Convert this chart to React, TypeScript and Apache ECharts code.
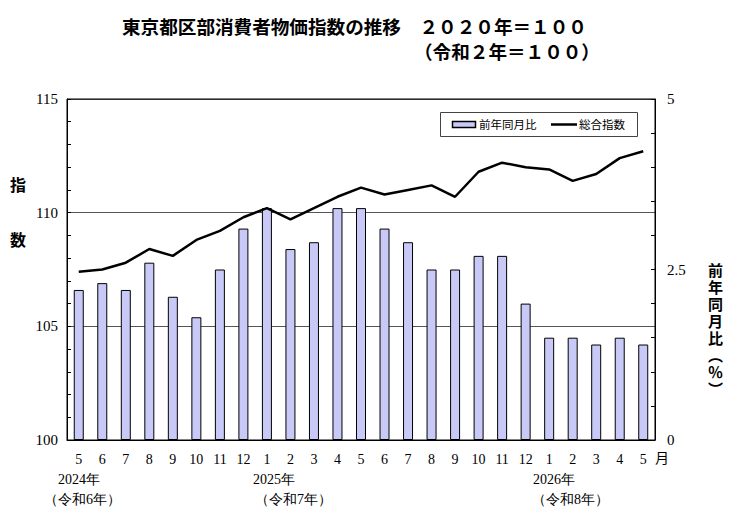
import React, { useEffect, useRef } from "react";
import * as echarts from "echarts";

const categories = [
  "2024-05", "2024-06", "2024-07", "2024-08", "2024-09", "2024-10", "2024-11", "2024-12",
  "2025-01", "2025-02", "2025-03", "2025-04", "2025-05", "2025-06", "2025-07", "2025-08",
  "2025-09", "2025-10", "2025-11", "2025-12", "2026-01", "2026-02", "2026-03", "2026-04", "2026-05",
];
const monthLabels = ["5", "6", "7", "8", "9", "10", "11", "12", "1", "2", "3", "4", "5", "6", "7", "8", "9", "10", "11", "12", "1", "2", "3", "4", "5"];
const yoyChange = [2.2, 2.3, 2.2, 2.6, 2.1, 1.8, 2.5, 3.1, 3.4, 2.8, 2.9, 3.4, 3.4, 3.1, 2.9, 2.5, 2.5, 2.7, 2.7, 2.0, 1.5, 1.5, 1.4, 1.5, 1.4];
const overallIndex = [107.4, 107.5, 107.8, 108.4, 108.1, 108.8, 109.2, 109.8, 110.2, 109.7, 110.2, 110.7, 111.1, 110.8, 111.0, 111.2, 110.7, 111.8, 112.2, 112.0, 111.9, 111.4, 111.7, 112.4, 112.7];
const leftTicks = [100, 105, 110, 115];
const rightTicks = [0, 2.5, 5];
const rightAxisTitle = ["前", "年", "同", "月", "比", "︵", "％", "︶"];

const SERIF = "'Liberation Serif', 'DejaVu Serif', serif";
const GOTHIC = "'Noto Sans CJK JP', 'Noto Sans', sans-serif";
const BAR_COLOR = "#c9c9f7";

export default function App() {
  const ref = useRef<HTMLDivElement>(null);
  useEffect(() => {
    if (!ref.current) return;
    const chart = echarts.init(ref.current, null, { renderer: "svg" });
    const txt = (left: number, top: number, text: string, font: string, extra: any = {}) => ({
      type: "text",
      left,
      top,
      silent: true,
      style: { text, font, fill: "#000", ...extra },
    });
    const graphics: any[] = [
      { type: "rect", silent: true, z: 10, shape: { x: 67, y: 99, width: 588, height: 341 }, style: { fill: "none", stroke: "#000", lineWidth: 1 } },
      txt(122, 16, "東京都区部消費者物価指数の推移　２０２０年＝１００", `bold 18.6px ${GOTHIC}`),
      txt(414, 41, "（令和２年＝１００）", `bold 18.6px ${GOTHIC}`),
      txt(10, 176, "指", `bold 16px ${GOTHIC}`),
      txt(10, 231, "数", `bold 16px ${GOTHIC}`),
      txt(655, 450, "月", `14px ${GOTHIC}`),
      txt(58, 472, "2024年", `14px ${SERIF}`),
      txt(44, 492, "（令和6年）", `14px ${SERIF}`),
      txt(253, 472, "2025年", `14px ${SERIF}`),
      txt(255, 492, "（令和7年）", `14px ${SERIF}`),
      txt(533, 472, "2026年", `14px ${SERIF}`),
      txt(532, 492, "（令和8年）", `14px ${SERIF}`),
      // legend
      { type: "rect", silent: true, z: 20, shape: { x: 440.5, y: 112.5, width: 197, height: 24 }, style: { fill: "#fff", stroke: "#444", lineWidth: 1 } },
      { type: "rect", silent: true, z: 21, shape: { x: 452.5, y: 121.5, width: 23, height: 6 }, style: { fill: BAR_COLOR, stroke: "#000", lineWidth: 1.5 } },
      { type: "text", silent: true, z: 21, left: 479, top: 118, style: { text: "前年同月比", font: `11.5px ${GOTHIC}`, fill: "#000" } },
      { type: "line", silent: true, z: 21, shape: { x1: 551, y1: 124.5, x2: 577, y2: 124.5 }, style: { stroke: "#000", lineWidth: 2.5 } },
      { type: "text", silent: true, z: 21, left: 579, top: 118, style: { text: "総合指数", font: `11.5px ${GOTHIC}`, fill: "#000" } },
    ];
    rightAxisTitle.forEach((ch, i) => {
      graphics.push(txt(708, 262 + i * 17, ch, `bold 15px ${GOTHIC}`, { lineHeight: 15 }));
    });
    const option: any = {
      animation: false,
      backgroundColor: "#ffffff",
      grid: { left: 67, right: 85, top: 99, bottom: 84, show: false },
      xAxis: {
        type: "category",
        data: categories,
        boundaryGap: true,
        axisLine: { show: true, lineStyle: { color: "#000", width: 1 } },
        axisTick: { show: false },
        axisLabel: {
          interval: 0,
          margin: 12,
          fontFamily: SERIF,
          fontSize: 14,
          color: "#000",
          formatter: (_v: string, i: number) => monthLabels[i],
        },
      },
      yAxis: [
        {
          type: "value",
          min: leftTicks[0],
          max: leftTicks[leftTicks.length - 1],
          interval: 5,
          position: "left",
          axisLine: { show: true, lineStyle: { color: "#000", width: 1 } },
          axisTick: { show: true, inside: true, length: 4, lineStyle: { color: "#000" } },
          minorTick: { show: true, splitNumber: 5, length: 4, lineStyle: { color: "#000" } },
          axisLabel: { fontFamily: SERIF, fontSize: 15, color: "#000", margin: 9 },
          splitLine: { show: true, lineStyle: { color: "#555", width: 1 } },
        },
        {
          type: "value",
          min: rightTicks[0],
          max: rightTicks[rightTicks.length - 1],
          interval: 2.5,
          position: "right",
          axisLine: { show: true, lineStyle: { color: "#000", width: 1 } },
          axisTick: { show: true, inside: true, length: 4, lineStyle: { color: "#000" } },
          minorTick: { show: true, splitNumber: 5, length: 4, lineStyle: { color: "#000" } },
          axisLabel: { fontFamily: SERIF, fontSize: 15, color: "#000", margin: 12 },
          splitLine: { show: false },
        },
      ],
      series: [
        {
          name: "前年同月比",
          type: "bar",
          yAxisIndex: 1,
          barWidth: 10,
          data: yoyChange,
          itemStyle: { color: BAR_COLOR, borderColor: "#000", borderWidth: 1 },
          z: 2,
        },
        {
          name: "総合指数",
          type: "line",
          yAxisIndex: 0,
          data: overallIndex,
          symbol: "none",
          lineStyle: { color: "#000", width: 2.5 },
          itemStyle: { color: "#000" },
          z: 3,
        },
      ],
      graphic: graphics,
    };
    chart.setOption(option);
    return () => chart.dispose();
  }, []);
  return (
    <div style={{ position: "fixed", left: 0, top: 0, width: 740, height: 524, background: "#fff" }}>
      <div ref={ref} style={{ width: 740, height: 524 }} />
    </div>
  );
}
